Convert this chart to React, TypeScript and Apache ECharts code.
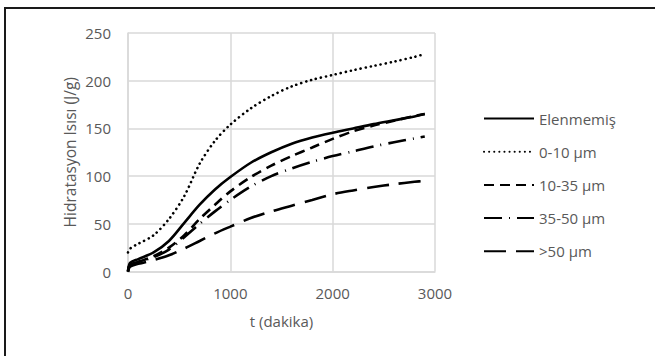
import React, { useEffect, useRef } from "react";
import * as echarts from "echarts";

const xValues = [0, 20, 100, 250, 400, 550, 700, 850, 1000, 1200, 1400, 1600, 1800, 2000, 2200, 2400, 2600, 2800, 2900];
const elenmemis = [0, 9, 13, 20, 32, 51, 70, 86, 99, 114, 125, 134, 140.5, 145.5, 150, 154.5, 158.5, 162.5, 165];
const s0_10 = [20, 24, 29, 38, 55, 79, 113, 137, 154, 171, 184, 194, 201, 206, 211, 215.5, 220, 225, 228];
const s10_35 = [0, 7, 10, 16, 25, 38, 55, 70, 84, 99, 111, 121, 130, 139, 147, 153, 158, 163, 165];
const s35_50 = [0, 7, 10, 15, 23, 36, 50, 63, 75, 89, 100, 108, 115, 121, 126, 131, 135.5, 139.5, 141.5];
const s50 = [0, 5, 8, 12, 17, 24, 32, 40, 47, 56, 63, 69, 75, 81, 85, 88.5, 91.5, 94, 95];

const seriesNames = ["Elenmemiş", "0-10 µm", "10-35 µm", "35-50 µm", ">50 µm"];
const seriesValues = [elenmemis, s0_10, s10_35, s35_50, s50];
const dashes: any[] = ["solid", [0.1, 5], [10, 6], [18, 7, 1, 7], [22, 10]];

export default function App() {
  const ref = useRef<HTMLDivElement>(null);
  useEffect(() => {
    const chart = echarts.init(ref.current!, null, { renderer: "svg" });
    const font = "Open Sans";
    const gray = "#595959";
    chart.setOption({
      animation: false,
      textStyle: { fontFamily: font },
      graphic: [
        {
          type: "rect",
          shape: { x: 5, y: 8, width: 680, height: 380 },
          style: { fill: "none", stroke: "#1a1a1a", lineWidth: 2 },
          silent: true,
        },
      ],
      grid: { left: 128, top: 33, right: 220, bottom: 84.5 },
      legend: {
        orient: "vertical",
        left: 478,
        top: 106,
        itemWidth: 50,
        itemHeight: 14,
        itemGap: 18.2,
        itemStyle: { opacity: 0 },
        textStyle: { color: gray, fontSize: 15, fontFamily: font },
        data: seriesNames,
      },
      xAxis: {
        type: "value",
        min: 0,
        max: 3000,
        interval: 1000,
        name: "t (dakika)",
        nameLocation: "middle",
        nameGap: 42,
        nameTextStyle: { color: gray, fontSize: 15, fontFamily: font },
        axisLine: { show: true, lineStyle: { color: "#d9d9d9", width: 1.5 } },
        axisTick: { show: false },
        axisLabel: { color: gray, fontSize: 15, margin: 14, fontFamily: font, formatter: (v: number) => String(v) },
        splitLine: { show: true, lineStyle: { color: "#d9d9d9", width: 1.5 } },
      },
      yAxis: {
        type: "value",
        min: 0,
        max: 250,
        interval: 50,
        name: "Hidratasyon Isısı (J/g)",
        nameLocation: "middle",
        nameGap: 50,
        nameTextStyle: { color: gray, fontSize: 15.5, fontFamily: font },
        axisLine: { show: true, lineStyle: { color: "#d9d9d9", width: 1.5 } },
        axisTick: { show: false },
        axisLabel: { color: gray, fontSize: 15, margin: 17, fontFamily: font, formatter: (v: number) => String(v) },
        splitLine: { show: true, lineStyle: { color: "#d9d9d9", width: 1.5 } },
      },
      series: seriesNames.map((name, i) => ({
        name,
        type: "line",
        data: xValues.map((x, j) => [x, seriesValues[i][j]]),
        smooth: 0.3,
        symbol: "none",
        lineStyle: {
          color: "#000",
          width: 2.6,
          type: dashes[i],
          cap: i === 1 ? "round" : "butt",
        },
        itemStyle: { color: "#000" },
      })),
    });
    return () => chart.dispose();
  }, []);
  return (
    <div
      ref={ref}
      style={{ position: "fixed", left: 0, top: 0, width: 655, height: 356, background: "#fff" }}
    />
  );
}
